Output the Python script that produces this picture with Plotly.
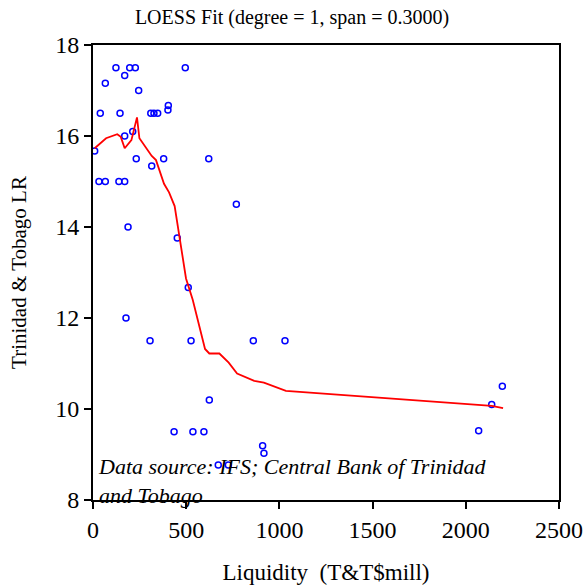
import plotly.graph_objects as go

liquidity = [123, 197, 227, 495, 170, 66, 245, 39, 145, 310, 327, 347, 404, 402,
             170, 213, 9, 232, 379, 621, 315, 32, 66, 139, 170, 769, 188, 452,
             511, 177, 306, 526, 860, 1030, 624, 2196, 2139, 2069, 435, 536, 595,
             910, 917, 672, 726]
tt_lr = [17.5, 17.5, 17.5, 17.5, 17.33, 17.16, 17.0, 16.5, 16.5, 16.5, 16.5, 16.5,
         16.67, 16.57, 16.0, 16.1, 15.67, 15.5, 15.5, 15.5, 15.34, 15.0, 15.0, 15.0,
         15.0, 14.5, 14.0, 13.76, 12.67, 12.0, 11.5, 11.5, 11.5, 11.5, 10.2, 10.5,
         10.1, 9.52, 9.5, 9.5, 9.5, 9.19, 9.03, 8.77, 8.77]

fit_x = [9, 70, 130, 149, 170, 206, 236, 249, 315, 338, 381, 408, 438, 499, 535,
         601, 624, 678, 728, 773, 865, 917, 1035, 2069, 2139, 2200]
fit_y = [15.73, 15.95, 16.04, 15.98, 15.73, 15.91, 16.41, 15.95, 15.56, 15.47,
         14.95, 14.76, 14.46, 12.87, 12.40, 11.32, 11.22, 11.22, 11.02, 10.78,
         10.62, 10.58, 10.40, 10.09, 10.07, 10.02]

x_ticks = [0, 500, 1000, 1500, 2000, 2500]
y_ticks = [8, 10, 12, 14, 16, 18]

font_family = "Liberation Serif, Times New Roman, serif"

fig = go.Figure()
fig.add_trace(go.Scatter(
    x=liquidity, y=tt_lr, mode="markers",
    marker=dict(symbol="circle-open", size=6, color="#0000ff", line=dict(width=1.5, color="#0000ff")),
    showlegend=False, cliponaxis=False))
fig.add_trace(go.Scatter(
    x=fit_x, y=fit_y, mode="lines",
    line=dict(color="#ff0000", width=1.8), showlegend=False))

fig.update_layout(
    width=584, height=585,
    margin=dict(l=93, r=25, t=45, b=85, autoexpand=False),
    paper_bgcolor="white", plot_bgcolor="white",
    font=dict(family=font_family, color="black"),
    title=dict(text="LOESS Fit (degree = 1, span = 0.3000)", x=0.5, xanchor="center",
               y=0.971, yanchor="middle", font=dict(size=20, family=font_family)),
    showlegend=False,
)
fig.update_xaxes(
    range=[0, 2500], tickvals=x_ticks, ticktext=[str(v) for v in x_ticks],
    ticks="outside", ticklen=7, tickwidth=1.5, tickcolor="black",
    showline=True, linecolor="black", linewidth=2, mirror=True,
    showgrid=False, zeroline=False, automargin=False,
    tickfont=dict(size=24, family=font_family),
    title=dict(text="Liquidity  (T&T$mill)", font=dict(size=23, family=font_family), standoff=22),
)
fig.update_yaxes(
    range=[8, 18], tickvals=y_ticks, ticktext=[str(v) for v in y_ticks],
    ticks="outside", ticklen=7, tickwidth=1.5, tickcolor="black",
    showline=True, linecolor="black", linewidth=2, mirror=True,
    showgrid=False, zeroline=False, automargin=False,
    tickfont=dict(size=24, family=font_family),
    title=dict(text="Trinidad & Tobago LR", font=dict(size=21, family=font_family), standoff=23),
)
fig.add_annotation(
    xref="paper", yref="paper", x=0.006, y=0.105, xanchor="left", yanchor="top",
    text="<i>Data source: IFS; Central Bank of Trinidad<br>and Tobago</i>",
    showarrow=False, align="left", font=dict(size=22, family=font_family, color="black"))

fig.write_html("out.html")
